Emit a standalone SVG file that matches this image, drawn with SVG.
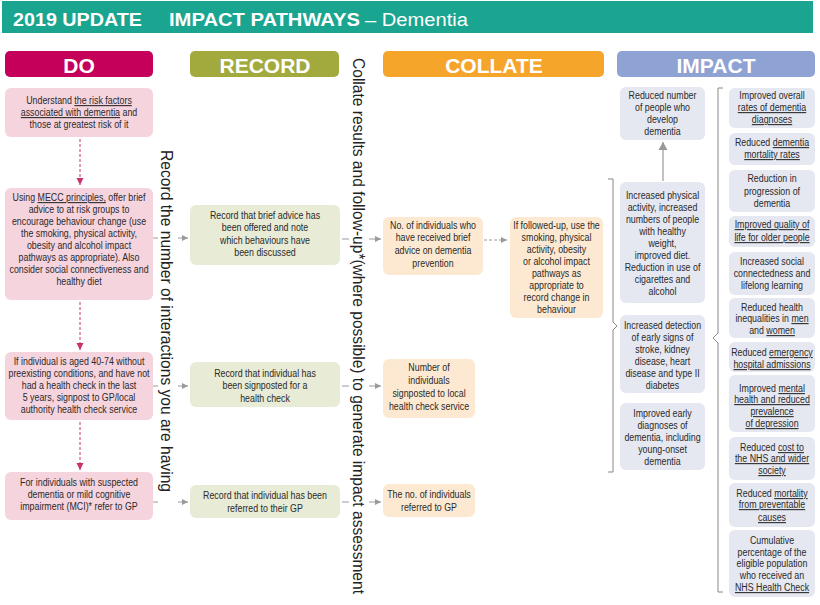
<svg xmlns="http://www.w3.org/2000/svg" width="820" height="605" viewBox="0 0 820 605">
<defs>
<style>
.hd{font-family:"Liberation Sans",Arial,sans-serif;font-weight:bold;fill:#fff}
.t{font-family:"Liberation Sans",Arial,sans-serif;font-size:10.8px;fill:#2a2a2a;text-anchor:middle}
.vt{font-family:"Liberation Sans",Arial,sans-serif;font-size:16.5px;fill:#222}
.u{text-decoration:underline}
.do{fill:#f6d4de}
.rec{fill:#e8ebd5}
.col{fill:#fde9d1}
.imp{fill:#e5e7f1}
.tick{stroke:#9a9a9a;stroke-width:1;fill:none}
.dash{stroke:#c8336f;stroke-width:1;stroke-dasharray:3,2;fill:none}
.br{stroke:#888;stroke-width:1;fill:none}
</style>
<marker id="ag" markerUnits="userSpaceOnUse" markerWidth="7" markerHeight="7" refX="6" refY="3.5" orient="auto"><path d="M0,0.5 L6,3.5 L0,6.5 z" fill="#9a9a9a"/></marker>
<marker id="am" markerUnits="userSpaceOnUse" markerWidth="8" markerHeight="8" refX="7" refY="4" orient="auto"><path d="M0,0.5 L7,4 L0,7.5 z" fill="#c8336f"/></marker>
<marker id="au" markerUnits="userSpaceOnUse" markerWidth="10" markerHeight="10" refX="8" refY="5" orient="auto"><path d="M0,0.5 L8,5 L0,9.5 z" fill="#999"/></marker>
</defs>
<rect x="0" y="0" width="820" height="605" fill="#fff"/>

<g id="title">
<rect x="2" y="1" width="811" height="32" fill="#19a58f"/>
<text class="hd" x="13" y="26" font-size="18" textLength="129" lengthAdjust="spacingAndGlyphs">2019 UPDATE</text>
<text class="hd" x="169" y="26" font-size="18" textLength="191" lengthAdjust="spacingAndGlyphs">IMPACT PATHWAYS</text>
<text x="365" y="26" font-family="Liberation Sans,Arial,sans-serif" font-size="18" fill="#fff" textLength="103" lengthAdjust="spacingAndGlyphs">– Dementia</text>
</g>

<g id="hdr-do"><rect x="5" y="51" width="148" height="26" rx="5" fill="#c4005b"/><text class="hd" x="79" y="73" font-size="21" text-anchor="middle">DO</text></g>
<g id="hdr-record"><rect x="190" y="51" width="149" height="26" rx="5" fill="#a3aa3d"/><text class="hd" x="265" y="73" font-size="21" text-anchor="middle">RECORD</text></g>
<g id="hdr-collate"><rect x="383" y="51" width="221" height="26" rx="5" fill="#f6a52b"/><text class="hd" x="494" y="73" font-size="21" text-anchor="middle">COLLATE</text></g>
<g id="hdr-impact"><rect x="617" y="51" width="198" height="26" rx="5" fill="#8ea2d3"/><text class="hd" x="716" y="73" font-size="21" text-anchor="middle">IMPACT</text></g>

<g id="vlabel-record"><text class="vt" transform="translate(161,150) rotate(90)" textLength="342" lengthAdjust="spacingAndGlyphs">Record the number of interactions you are having</text></g>
<g id="vlabel-collate"><text class="vt" transform="translate(353,58) rotate(90)" textLength="536" lengthAdjust="spacingAndGlyphs">Collate results and follow-up*(where possible) to generate impact assessment</text></g>

<g id="connectors">
<path class="dash" d="M80,139 V185" marker-end="url(#am)"/>
<path class="dash" d="M80,302 V350" marker-end="url(#am)"/>
<path class="dash" d="M80,422 V470" marker-end="url(#am)"/>
<path class="tick" d="M153,238 H158"/><path class="tick" d="M178,238 H188" marker-end="url(#ag)"/>
<path class="tick" d="M153,386 H158"/><path class="tick" d="M178,386 H188" marker-end="url(#ag)"/>
<path class="tick" d="M153,502 H158"/><path class="tick" d="M178,502 H188" marker-end="url(#ag)"/>
<path class="tick" d="M342,239 H349"/><path class="tick" d="M369,239 H381" marker-end="url(#ag)"/>
<path class="tick" d="M342,386 H349"/><path class="tick" d="M369,386 H381" marker-end="url(#ag)"/>
<path class="tick" d="M342,502 H349"/><path class="tick" d="M369,502 H381" marker-end="url(#ag)"/>
<path class="tick" d="M484,240 H507" stroke-dasharray="3,2" marker-end="url(#ag)"/>
<path d="M663,181 V142" stroke="#999" stroke-width="1.2" fill="none" marker-end="url(#au)"/>
<path class="br" d="M608,179 H613 V322 L617,326 L613,330 V472 H608"/>
<path class="br" d="M723,88 H718 V333 L713,338 L718,343 V592 H723"/>
</g>

<g id="do1"><rect class="do" x="5" y="88" width="148" height="49" rx="6"/>
<g transform="translate(79,0) scale(0.82,1)">
<text class="t" x="0" y="104">Understand <tspan class="u">the risk factors</tspan></text>
<text class="t" x="0" y="116"><tspan class="u">associated with dementia</tspan> and</text>
<text class="t" x="0" y="128">those at greatest risk of it</text></g></g>

<g id="do2"><rect class="do" x="5" y="188" width="148" height="112" rx="6"/>
<g transform="translate(79,0) scale(0.82,1)">
<text class="t" x="0" y="201">Using <tspan class="u">MECC principles,</tspan> offer brief</text>
<text class="t" x="0" y="213">advice to at risk groups to</text>
<text class="t" x="0" y="225">encourage behaviour change (use</text>
<text class="t" x="0" y="237">the smoking, physical activity,</text>
<text class="t" x="0" y="249">obesity and alcohol impact</text>
<text class="t" x="0" y="261">pathways as appropriate). Also</text>
<text class="t" x="0" y="273">consider social connectiveness and</text>
<text class="t" x="0" y="285">healthy diet</text></g></g>

<g id="do3"><rect class="do" x="5" y="352" width="148" height="68" rx="6"/>
<g transform="translate(79,0) scale(0.82,1)">
<text class="t" x="0" y="365">If individual is aged 40-74 without</text>
<text class="t" x="0" y="377">preexisting conditions, and have not</text>
<text class="t" x="0" y="389">had a health check in the last</text>
<text class="t" x="0" y="401">5 years, signpost to GP/local</text>
<text class="t" x="0" y="413">authority health check service</text></g></g>

<g id="do4"><rect class="do" x="5" y="472" width="148" height="48" rx="6"/>
<g transform="translate(79,0) scale(0.82,1)">
<text class="t" x="0" y="486">For individuals with suspected</text>
<text class="t" x="0" y="498">dementia or mild cognitive</text>
<text class="t" x="0" y="510">impairment (MCI)* refer to GP</text></g></g>

<g id="rec1"><rect class="rec" x="190" y="205" width="150" height="60" rx="6"/>
<g transform="translate(265,0) scale(0.82,1)">
<text class="t" x="0" y="219">Record that brief advice has</text>
<text class="t" x="0" y="231">been offered and note</text>
<text class="t" x="0" y="244">which behaviours have</text>
<text class="t" x="0" y="256">been discussed</text></g></g>

<g id="rec2"><rect class="rec" x="190" y="362" width="150" height="45" rx="6"/>
<g transform="translate(265,0) scale(0.82,1)">
<text class="t" x="0" y="377">Record that individual has</text>
<text class="t" x="0" y="389">been signposted for a</text>
<text class="t" x="0" y="402">health check</text></g></g>

<g id="rec3"><rect class="rec" x="190" y="485" width="150" height="33" rx="6"/>
<g transform="translate(265,0) scale(0.82,1)">
<text class="t" x="0" y="499">Record that individual has been</text>
<text class="t" x="0" y="512">referred to their GP</text></g></g>

<g id="col1"><rect class="col" x="383" y="217" width="100" height="58" rx="6"/>
<g transform="translate(433,0) scale(0.82,1)">
<text class="t" x="0" y="229">No. of individuals who</text>
<text class="t" x="0" y="241">have received brief</text>
<text class="t" x="0" y="254">advice on dementia</text>
<text class="t" x="0" y="267">prevention</text></g></g>

<g id="col2"><rect class="col" x="383" y="359" width="92" height="59" rx="6"/>
<g transform="translate(429,0) scale(0.82,1)">
<text class="t" x="0" y="371">Number of</text>
<text class="t" x="0" y="384">individuals</text>
<text class="t" x="0" y="397">signposted to local</text>
<text class="t" x="0" y="410">health check service</text></g></g>

<g id="col3"><rect class="col" x="383" y="484" width="92" height="33" rx="6"/>
<g transform="translate(429,0) scale(0.82,1)">
<text class="t" x="0" y="498">The no. of individuals</text>
<text class="t" x="0" y="511">referred to GP</text></g></g>

<g id="col4"><rect class="col" x="510" y="217" width="93" height="101" rx="6"/>
<g transform="translate(556.5,0) scale(0.82,1)">
<text class="t" x="0" y="229">If followed-up, use the</text>
<text class="t" x="0" y="241">smoking, physical</text>
<text class="t" x="0" y="253">activity, obesity</text>
<text class="t" x="0" y="265">or alcohol impact</text>
<text class="t" x="0" y="277">pathways as</text>
<text class="t" x="0" y="289">appropriate to</text>
<text class="t" x="0" y="301">record change in</text>
<text class="t" x="0" y="313">behaviour</text></g></g>

<g id="impL1"><rect class="imp" x="620" y="87" width="85" height="53" rx="6"/>
<g transform="translate(662.5,0) scale(0.82,1)">
<text class="t" x="0" y="99">Reduced number</text>
<text class="t" x="0" y="111">of people who</text>
<text class="t" x="0" y="123">develop</text>
<text class="t" x="0" y="135">dementia</text></g></g>

<g id="impL2"><rect class="imp" x="620" y="182" width="85" height="121" rx="6"/>
<g transform="translate(662.5,0) scale(0.82,1)">
<text class="t" x="0" y="199">Increased physical</text>
<text class="t" x="0" y="211">activity, increased</text>
<text class="t" x="0" y="223">numbers of people</text>
<text class="t" x="0" y="235">with healthy</text>
<text class="t" x="0" y="247">weight,</text>
<text class="t" x="0" y="259">improved diet.</text>
<text class="t" x="0" y="271">Reduction in use of</text>
<text class="t" x="0" y="283">cigarettes and</text>
<text class="t" x="0" y="295">alcohol</text></g></g>

<g id="impL3"><rect class="imp" x="620" y="315" width="85" height="78" rx="6"/>
<g transform="translate(662.5,0) scale(0.82,1)">
<text class="t" x="0" y="329">Increased detection</text>
<text class="t" x="0" y="341">of early signs of</text>
<text class="t" x="0" y="353">stroke, kidney</text>
<text class="t" x="0" y="365">disease, heart</text>
<text class="t" x="0" y="377">disease and type II</text>
<text class="t" x="0" y="389">diabetes</text></g></g>

<g id="impL4"><rect class="imp" x="620" y="403" width="85" height="67" rx="6"/>
<g transform="translate(662.5,0) scale(0.82,1)">
<text class="t" x="0" y="417">Improved early</text>
<text class="t" x="0" y="429">diagnoses of</text>
<text class="t" x="0" y="441">dementia, including</text>
<text class="t" x="0" y="453">young-onset</text>
<text class="t" x="0" y="465">dementia</text></g></g>

<g id="impR1"><rect class="imp" x="729" y="88" width="86" height="40" rx="6"/>
<g transform="translate(772,0) scale(0.82,1)">
<text class="t" x="0" y="99">Improved overall</text>
<text class="t" x="0" y="111"><tspan class="u">rates of dementia</tspan></text>
<text class="t" x="0" y="123"><tspan class="u">diagnoses</tspan></text></g></g>

<g id="impR2"><rect class="imp" x="729" y="133" width="86" height="32" rx="6"/>
<g transform="translate(772,0) scale(0.82,1)">
<text class="t" x="0" y="146">Reduced <tspan class="u">dementia</tspan></text>
<text class="t" x="0" y="158"><tspan class="u">mortality rates</tspan></text></g></g>

<g id="impR3"><rect class="imp" x="729" y="170" width="86" height="42" rx="6"/>
<g transform="translate(772,0) scale(0.82,1)">
<text class="t" x="0" y="182">Reduction in</text>
<text class="t" x="0" y="195">progression of</text>
<text class="t" x="0" y="207">dementia</text></g></g>

<g id="impR4"><rect class="imp" x="729" y="216" width="86" height="31" rx="6"/>
<g transform="translate(772,0) scale(0.82,1)">
<text class="t" x="0" y="228"><tspan class="u">Improved quality of</tspan></text>
<text class="t" x="0" y="241"><tspan class="u">life for older people</tspan></text></g></g>

<g id="impR5"><rect class="imp" x="729" y="252" width="86" height="43" rx="6"/>
<g transform="translate(772,0) scale(0.82,1)">
<text class="t" x="0" y="265">Increased social</text>
<text class="t" x="0" y="277">connectedness and</text>
<text class="t" x="0" y="289">lifelong learning</text></g></g>

<g id="impR6"><rect class="imp" x="729" y="298" width="86" height="40" rx="6"/>
<g transform="translate(772,0) scale(0.82,1)">
<text class="t" x="0" y="311">Reduced health</text>
<text class="t" x="0" y="322">inequalities in <tspan class="u">men</tspan></text>
<text class="t" x="0" y="334">and <tspan class="u">women</tspan></text></g></g>

<g id="impR7"><rect class="imp" x="729" y="342" width="86" height="30" rx="6"/>
<g transform="translate(772,0) scale(0.82,1)">
<text class="t" x="0" y="356">Reduced <tspan class="u">emergency</tspan></text>
<text class="t" x="0" y="368"><tspan class="u">hospital admissions</tspan></text></g></g>

<g id="impR8"><rect class="imp" x="729" y="375" width="86" height="57" rx="6"/>
<g transform="translate(772,0) scale(0.82,1)">
<text class="t" x="0" y="392">Improved <tspan class="u">mental</tspan></text>
<text class="t" x="0" y="403"><tspan class="u">health and reduced</tspan></text>
<text class="t" x="0" y="415"><tspan class="u">prevalence</tspan></text>
<text class="t" x="0" y="427"><tspan class="u">of depression</tspan></text></g></g>

<g id="impR9"><rect class="imp" x="729" y="437" width="86" height="43" rx="6"/>
<g transform="translate(772,0) scale(0.82,1)">
<text class="t" x="0" y="451">Reduced <tspan class="u">cost to</tspan></text>
<text class="t" x="0" y="462"><tspan class="u">the NHS and wider</tspan></text>
<text class="t" x="0" y="474"><tspan class="u">society</tspan></text></g></g>

<g id="impR10"><rect class="imp" x="729" y="483" width="86" height="44" rx="6"/>
<g transform="translate(772,0) scale(0.82,1)">
<text class="t" x="0" y="497">Reduced <tspan class="u">mortality</tspan></text>
<text class="t" x="0" y="508"><tspan class="u">from preventable</tspan></text>
<text class="t" x="0" y="521"><tspan class="u">causes</tspan></text></g></g>

<g id="impR11"><rect class="imp" x="729" y="530" width="86" height="67" rx="6"/>
<g transform="translate(772,0) scale(0.82,1)">
<text class="t" x="0" y="544">Cumulative</text>
<text class="t" x="0" y="556">percentage of the</text>
<text class="t" x="0" y="567">eligible population</text>
<text class="t" x="0" y="579">who received an</text>
<text class="t" x="0" y="591"><tspan class="u">NHS Health Check</tspan></text></g></g>
</svg>
